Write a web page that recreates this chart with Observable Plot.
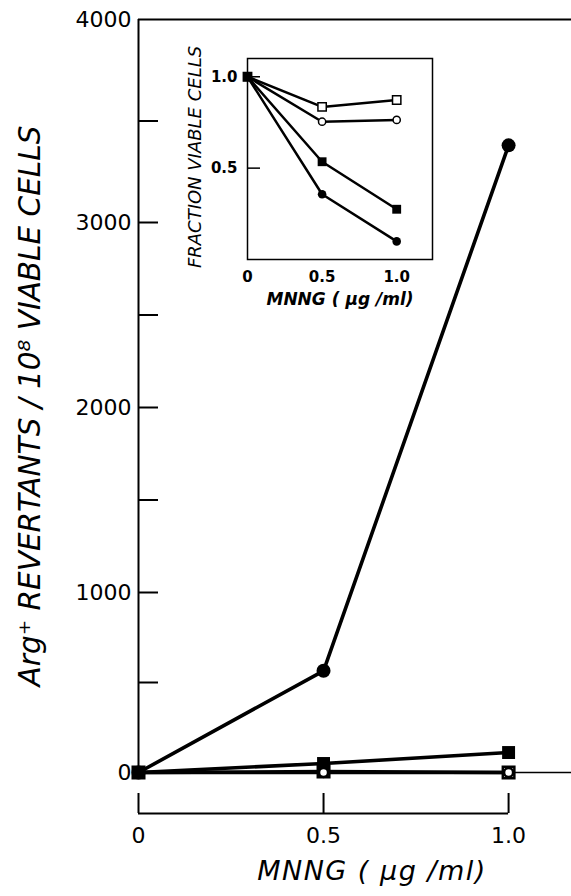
<!DOCTYPE html>
<html><head><meta charset="utf-8">
<script src="https://cdn.jsdelivr.net/npm/d3@7"></script>
<script src="https://cdn.jsdelivr.net/npm/@observablehq/plot@0.6"></script>
<style>
body{margin:0;background:#fff;}
#wrap{position:relative;width:571px;height:896px;overflow:hidden;}
#main{position:absolute;left:0;top:0;}
#inset{position:absolute;left:180px;top:30px;}
</style></head><body><div id="wrap"><div id="main"></div><div id="inset"></div></div>
<script>
// ---- data ----
const doses = [0, 0.5, 1.0];
const revertFilledCircle = [0, 565, 3380];
const revertFilledSquare = [0, 50, 111];
const revertOpenSquare = [0, 5, 0];
const revertOpenCircle = [0, 0, 0];
const viableFilledCircle = [1.0, 0.357, 0.099];
const viableFilledSquare = [1.0, 0.535, 0.275];
const viableOpenSquare = [1.0, 0.835, 0.873];
const viableOpenCircle = [1.0, 0.754, 0.764];
const mainYTicks = [500, 1000, 1500, 2000, 2500, 3000, 3500];
const mainYLabels = [0, 1000, 2000, 3000, 4000];
const mainXTicks = [0, 0.5, 1.0];
const insetYTicks = [0.5, 1.0];
const insetXTicks = [0, 0.5, 1.0];
const mainYTitle = "Arg\u207A REVERTANTS / 10\u2078 VIABLE CELLS";
const mainXTitle = "MNNG ( \u03BCg /ml)";
const insetYTitle = "FRACTION VIABLE CELLS";
const insetXTitle = "MNNG ( \u03BCg /ml)";
// the hand-drawn y axis of the original is slightly uneven: relative spacing of its major ticks
const axisSpacing = [0, 180, 365, 550, 753];

const mk = (name, vals) => doses.map((d, i) => ({series: name, dose: d, value: vals[i]}));
const mainRows = {
  fc: mk("fc", revertFilledCircle), fs: mk("fs", revertFilledSquare),
  os: mk("os", revertOpenSquare), oc: mk("oc", revertOpenCircle)
};
const insetRows = {
  fc: mk("fc", viableFilledCircle), fs: mk("fs", viableFilledSquare),
  os: mk("os", viableOpenSquare), oc: mk("oc", viableOpenCircle)
};
const allMain = [...mainRows.os, ...mainRows.oc, ...mainRows.fs, ...mainRows.fc];
const allInset = [...insetRows.os, ...insetRows.oc, ...insetRows.fs, ...insetRows.fc];
const fmt = d => d === 0 ? "0" : d.toFixed(1);
const font = "DejaVu Sans";
const warp = d3.scaleLinear().domain(mainYLabels).range(axisSpacing);

const main = Plot.plot({
  width: 571, height: 896,
  marginLeft: 138, marginRight: 0, marginTop: 19, marginBottom: 124,
  style: {fontFamily: font, background: "transparent", overflow: "visible", color: "black"},
  x: {domain: [0, 1.17], label: null},
  y: {transform: warp, label: null},
  marks: [
    Plot.ruleY([4000], {strokeWidth: 2}),
    Plot.ruleY([0], {strokeWidth: 1.5}),
    Plot.ruleX([0], {y1: 0, y2: 4000, strokeWidth: 2}),
    Plot.axisY(mainYTicks, {tickSize: -20, strokeWidth: 2, tickFormat: () => "", label: null}),
    Plot.axisY(mainYLabels, {tickSize: 0, tickPadding: 7, fontSize: 22, tickFormat: d => String(d), label: null}),
    Plot.ruleY([0], {x1: 0, x2: 1.0, dy: 41, strokeWidth: 2}),
    Plot.axisX(mainXTicks, {tickSize: -20, dy: 41, strokeWidth: 2, tickFormat: () => "", label: null}),
    Plot.axisX(mainXTicks, {tickSize: 0, tickPadding: 14, dy: 41, fontSize: 22, tickFormat: fmt, label: null}),
    Plot.line(allMain, {x: "dose", y: "value", z: "series", stroke: "black", strokeWidth: 3.6}),
    Plot.dot(mainRows.os, {x: "dose", y: "value", symbol: "square", r: 6.5, fill: "white", stroke: "black", strokeWidth: 2.5}),
    Plot.dot(mainRows.fc, {x: "dose", y: "value", r: 7, fill: "black"}),
    Plot.dot(mainRows.fs, {x: "dose", y: "value", symbol: "square", r: 7.3, fill: "black"}),
    Plot.dot(mainRows.oc.filter(d => d.dose > 0), {x: "dose", y: "value", r: 4.5, fill: "white", stroke: "black", strokeWidth: 2.5}),
    Plot.text([mainYTitle], {frameAnchor: "left", rotate: -90, dx: -108, dy: 10, fontSize: 29.5, fontStyle: "italic", textAnchor: "middle"}),
    Plot.text([mainXTitle], {frameAnchor: "bottom", dx: 17, dy: 107, fontSize: 27, fontStyle: "italic", textAnchor: "middle"})
  ]
});
document.getElementById("main").appendChild(main);
d3.select(main).selectAll("text").filter(function(){ return this.textContent === mainXTitle; }).attr("letter-spacing", "1.5px");

const inset = Plot.plot({
  width: 260, height: 290,
  marginLeft: 67, marginRight: 8, marginTop: 28, marginBottom: 61,
  style: {fontFamily: font, background: "transparent", overflow: "visible", color: "black"},
  x: {domain: [0, 1.24], label: null},
  y: {domain: [0, 1.1], label: null},
  marks: [
    Plot.frame({fill: "white", stroke: "black", strokeWidth: 1.5}),
    Plot.axisY(insetYTicks, {tickSize: -13, strokeWidth: 1.5, tickFormat: () => "", label: null}),
    Plot.axisY(insetYTicks, {tickSize: 0, tickPadding: 10, fontSize: 15, fontWeight: "bold", tickFormat: fmt, label: null}),
    Plot.axisX(insetXTicks, {tickSize: 0, tickPadding: 12, fontSize: 15, fontWeight: "bold", tickFormat: fmt, label: null}),
    Plot.line(allInset, {x: "dose", y: "value", z: "series", stroke: "black", strokeWidth: 2.5}),
    Plot.dot(insetRows.os, {x: "dose", y: "value", symbol: "square", r: 4.7, fill: "white", stroke: "black", strokeWidth: 1.5}),
    Plot.dot(insetRows.oc, {x: "dose", y: "value", r: 3.6, fill: "white", stroke: "black", strokeWidth: 1.5}),
    Plot.dot(insetRows.fs, {x: "dose", y: "value", symbol: "square", r: 5, fill: "black"}),
    Plot.dot(insetRows.fc, {x: "dose", y: "value", r: 4.3, fill: "black"}),
    Plot.text([insetYTitle], {frameAnchor: "left", rotate: -90, dx: -52, dy: -2, fontSize: 18, fontStyle: "italic", textAnchor: "middle"}),
    Plot.text([insetXTitle], {frameAnchor: "bottom", dy: 45, fontSize: 17, fontWeight: "bold", fontStyle: "italic", textAnchor: "middle", letterSpacing: 0})
  ]
});
document.getElementById("inset").appendChild(inset);
</script></body></html>
